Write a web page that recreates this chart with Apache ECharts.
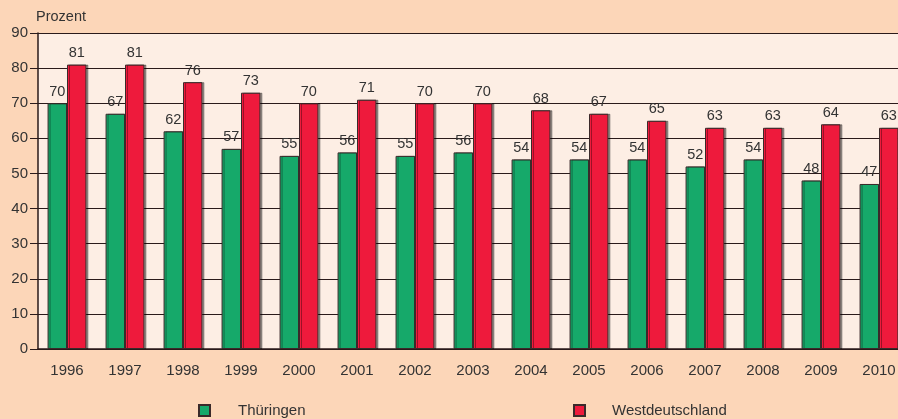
<!DOCTYPE html>
<html>
<head>
<meta charset="utf-8">
<script src="https://cdn.jsdelivr.net/npm/echarts@6/dist/echarts.min.js"></script>
<style>
  html, body { margin: 0; padding: 0; background: #fcd6b8; overflow: hidden; }
  #chart { width: 908px; height: 419px; }
</style>
</head>
<body>
<div id="chart"></div>
<script>
var years = ['1996', '1997', '1998', '1999', '2000', '2001', '2002', '2003', '2004', '2005', '2006', '2007', '2008', '2009', '2010'];
var thueringen = [70, 67, 62, 57, 55, 56, 55, 56, 54, 54, 54, 52, 54, 48, 47];
var westdeutschland = [81, 81, 76, 73, 70, 71, 70, 70, 68, 67, 65, 63, 63, 64, 63];

var myChart = echarts.init(document.getElementById('chart'));

var labelStyle = {
    show: true,
    position: 'top',
    distance: 4,
    color: '#333',
    fontSize: 14.5,
    fontFamily: 'Liberation Sans'
};

var barStyle = function (color) {
    return {
        color: color,
        borderColor: '#3a2a2a',
        borderWidth: 1,
        shadowColor: 'rgba(0,0,0,0.35)',
        shadowOffsetX: 2,
        shadowOffsetY: 0,
        shadowBlur: 0
    };
};

var option = {
    backgroundColor: '#fcd6b8',
    animation: false,
    textStyle: { fontFamily: 'Liberation Sans', color: '#333' },
    grid: {
        left: 38,
        right: 0,
        top: 33,
        bottom: 70,
        show: true,
        backgroundColor: '#fdeee4',
        borderWidth: 0
    },
    legend: [{
        data: ['Thüringen'],
        left: 193,
        top: 398,
        itemWidth: 11,
        itemHeight: 11,
        icon: 'rect',
        textStyle: { fontSize: 15, color: '#333', padding: [0, 0, 0, 23] }
    }, {
        data: ['Westdeutschland'],
        left: 568,
        top: 398,
        itemWidth: 11,
        itemHeight: 11,
        icon: 'rect',
        textStyle: { fontSize: 15, color: '#333', padding: [0, 0, 0, 22] }
    }],
    xAxis: {
        type: 'category',
        data: years,
        axisLine: { show: true, lineStyle: { color: '#2a1a1a', width: 1.5 } },
        axisTick: { show: false },
        axisLabel: { color: '#333', fontSize: 15, margin: 14 }
    },
    yAxis: {
        type: 'value',
        name: 'Prozent',
        nameLocation: 'end',
        nameGap: 9,
        nameTextStyle: { color: '#333', fontSize: 14.5, align: 'left', padding: [0, 0, 0, -2] },
        min: 0,
        max: 90,
        interval: 10,
        axisLine: { show: true, lineStyle: { color: '#2a1a1a', width: 1.5 } },
        axisTick: { show: true, length: 8, lineStyle: { color: '#2a1a1a' } },
        axisLabel: { color: '#333', fontSize: 15, margin: 10 },
        splitLine: { show: true, lineStyle: { color: '#2a1a1a', width: 1 } }
    },
    series: [{
        name: 'Thüringen',
        type: 'bar',
        data: thueringen,
        barGap: '0%',
        barCategoryGap: '33%',
        itemStyle: barStyle('#16a96a'),
        label: labelStyle
    }, {
        name: 'Westdeutschland',
        type: 'bar',
        data: westdeutschland,
        barGap: '0%',
        barCategoryGap: '33%',
        itemStyle: barStyle('#ee1a3c'),
        label: labelStyle
    }]
};

myChart.setOption(option);
</script>
</body>
</html>
